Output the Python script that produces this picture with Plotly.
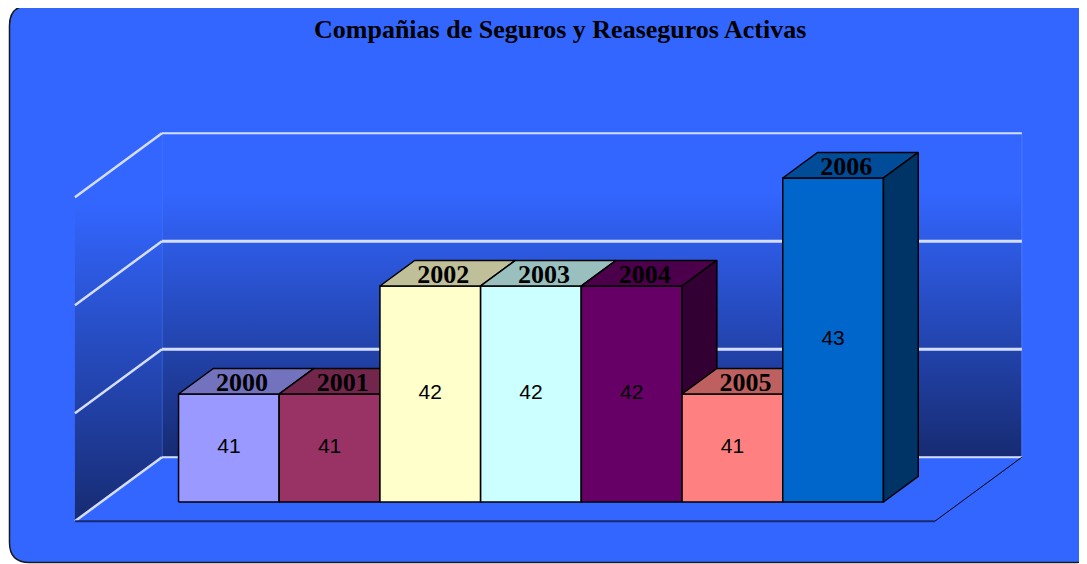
import plotly.graph_objects as go

# ---------------- data ----------------
years = ["2000", "2001", "2002", "2003", "2004", "2005", "2006"]
companies = [41, 41, 42, 42, 42, 41, 43]
bar_colors = ["#9999FF", "#993366", "#FFFFCC", "#CCFFFF", "#660066", "#FF8080", "#0066CC"]
y_ticks = [40, 41, 42, 43]
title_text = "Compañias de Seguros y Reaseguros Activas"

# ---------------- geometry ----------------
OFF = 8                      # page body margin
W, H = 1087 - OFF, 564 - OFF
PX_X = 100.7                 # pixels per category
PX_Y = 108.0                 # pixels per value unit
X0_PX = 228.9 - OFF          # pixel x of first category centre
Y0_PX = 502.0 - OFF          # pixel y of axis base
BASE = y_ticks[0]
TOP = y_ticks[-1]
x_range = [-X0_PX / PX_X, (W - X0_PX) / PX_X]
y_range = [BASE - (H - Y0_PX) / PX_Y, BASE + Y0_PX / PX_Y]

DEPTH_DX = 87 / PX_X
DEPTH_DY = 64 / PX_Y
D_FRONT, D_BACK = 0.3, 0.7
PAD = 0.77
n = len(years)
XLO, XHI = -0.5 - PAD, (n - 0.5) + PAD

BG = "#3366FF"


def proj(x, v, d):
    return x + (d - D_FRONT) * DEPTH_DX, v + (d - D_FRONT) * DEPTH_DY


def poly(points):
    xs = [p[0] for p in points] + [points[0][0]]
    ys = [p[1] for p in points] + [points[0][1]]
    return xs, ys


def shade(hexcol, f):
    h = hexcol.lstrip("#")
    r, g, b = (int(h[i:i + 2], 16) for i in (0, 2, 4))
    return "#%02X%02X%02X" % (int(r * f), int(g * f), int(b * f))


fig = go.Figure()
grad = [[0, "#172B72"], [0.82, BG], [1, BG]]
GRID = "#D6DEFF"

# back wall
xs, ys = poly([proj(XLO, BASE, 1), proj(XHI, BASE, 1), proj(XHI, TOP, 1), proj(XLO, TOP, 1)])
fig.add_trace(go.Scatter(x=xs, y=ys, mode="lines", fill="toself",
                         fillgradient=dict(type="vertical", colorscale=grad),
                         line=dict(color="#4A7AFF", width=1), hoverinfo="skip"))
# left wall
xs, ys = poly([proj(XLO, BASE, 0), proj(XLO, BASE, 1), proj(XLO, TOP, 1), proj(XLO, TOP, 0)])
fig.add_trace(go.Scatter(x=xs, y=ys, mode="lines", fill="toself",
                         fillgradient=dict(type="vertical", colorscale=grad),
                         line=dict(color="rgba(0,0,0,0)", width=0), hoverinfo="skip"))
# gridlines
for v in y_ticks:
    wide = 2 if v in (BASE, TOP) else 3
    a, b = proj(XLO, v, 1), proj(XHI, v, 1)
    fig.add_trace(go.Scatter(x=[a[0], b[0]], y=[a[1], b[1]], mode="lines",
                             line=dict(color=GRID, width=wide), hoverinfo="skip"))
    a, b = proj(XLO, v, 0), proj(XLO, v, 1)
    fig.add_trace(go.Scatter(x=[a[0], b[0]], y=[a[1], b[1]], mode="lines",
                             line=dict(color=GRID, width=2.5), hoverinfo="skip"))
# floor edges
a, b, c = proj(XLO, BASE, 0), proj(XHI, BASE, 0), proj(XHI, BASE, 1)
fig.add_trace(go.Scatter(x=[a[0], b[0]], y=[a[1], b[1]], mode="lines",
                         line=dict(color="#1A2A70", width=2), hoverinfo="skip"))
fig.add_trace(go.Scatter(x=[b[0], c[0]], y=[b[1], c[1]], mode="lines",
                         line=dict(color="#000000", width=1), hoverinfo="skip"))

# bars (front, top, side), left to right
edge = dict(color="#000000", width=1.5)
for i, (val, col) in enumerate(zip(companies, bar_colors)):
    xl, xr = i - 0.5, i + 0.5
    xs, ys = poly([(xl, BASE), (xr, BASE), (xr, val), (xl, val)])
    fig.add_trace(go.Scatter(x=xs, y=ys, mode="lines", fill="toself", fillcolor=col,
                             line=edge, hoverinfo="skip"))
    xs, ys = poly([proj(xl, val, D_FRONT), proj(xr, val, D_FRONT),
                   proj(xr, val, D_BACK), proj(xl, val, D_BACK)])
    fig.add_trace(go.Scatter(x=xs, y=ys, mode="lines", fill="toself", fillcolor=shade(col, 0.75),
                             line=edge, hoverinfo="skip"))
    xs, ys = poly([proj(xr, BASE, D_FRONT), proj(xr, BASE, D_BACK),
                   proj(xr, val, D_BACK), proj(xr, val, D_FRONT)])
    fig.add_trace(go.Scatter(x=xs, y=ys, mode="lines", fill="toself", fillcolor=shade(col, 0.5),
                             line=edge, hoverinfo="skip"))

# value labels
fig.add_trace(go.Scatter(x=list(range(n)), y=[(BASE + v) / 2 for v in companies],
                         mode="text", text=[str(v) for v in companies],
                         textfont=dict(family="Liberation Sans, Arial", size=21, color="#000000"),
                         hoverinfo="skip"))
# category labels at top faces
lab = [proj(i, v, 0.45) for i, v in enumerate(companies)]
fig.add_trace(go.Scatter(x=[p[0] for p in lab], y=[p[1] for p in lab],
                         mode="text", text=["<b>%s</b>" % y for y in years],
                         textfont=dict(family="Liberation Serif, Times New Roman", size=26, color="#000000"),
                         hoverinfo="skip"))

# rounded background panel (pixel -> paper)
L, T, R, B, r = 9.5 - OFF, 5.5 - OFF, 1095 - OFF, 562.5 - OFF, 20


def P(px, py):
    return "%.5f,%.5f" % (px / W, 1 - py / H)


path = ("M" + P(L + r, T) + " L" + P(R - r, T) + " Q" + P(R, T) + " " + P(R, T + r) +
        " L" + P(R, B - r) + " Q" + P(R, B) + " " + P(R - r, B) +
        " L" + P(L + r, B) + " Q" + P(L, B) + " " + P(L, B - r) +
        " L" + P(L, T + r) + " Q" + P(L, T) + " " + P(L + r, T) + " Z")

fig.update_layout(
    width=W, height=H,
    margin=dict(l=0, r=0, t=0, b=0),
    paper_bgcolor="#FFFFFF",
    plot_bgcolor="rgba(0,0,0,0)",
    showlegend=False,
    xaxis=dict(range=x_range, visible=False, fixedrange=True),
    yaxis=dict(range=y_range, visible=False, fixedrange=True),
    shapes=[dict(type="path", xref="paper", yref="paper", path=path, layer="below",
                 fillcolor=BG, line=dict(color="#1A1A1A", width=1.5))],
    annotations=[dict(x=(560 - OFF) / W, y=1 - (30 - OFF) / H, xref="paper", yref="paper",
                      text="<b>%s</b>" % title_text, showarrow=False,
                      font=dict(family="Liberation Serif, Times New Roman", size=26, color="#000000"),
                      xanchor="center", yanchor="middle")],
)

fig.write_html("out.html", config=dict(displayModeBar=False))
